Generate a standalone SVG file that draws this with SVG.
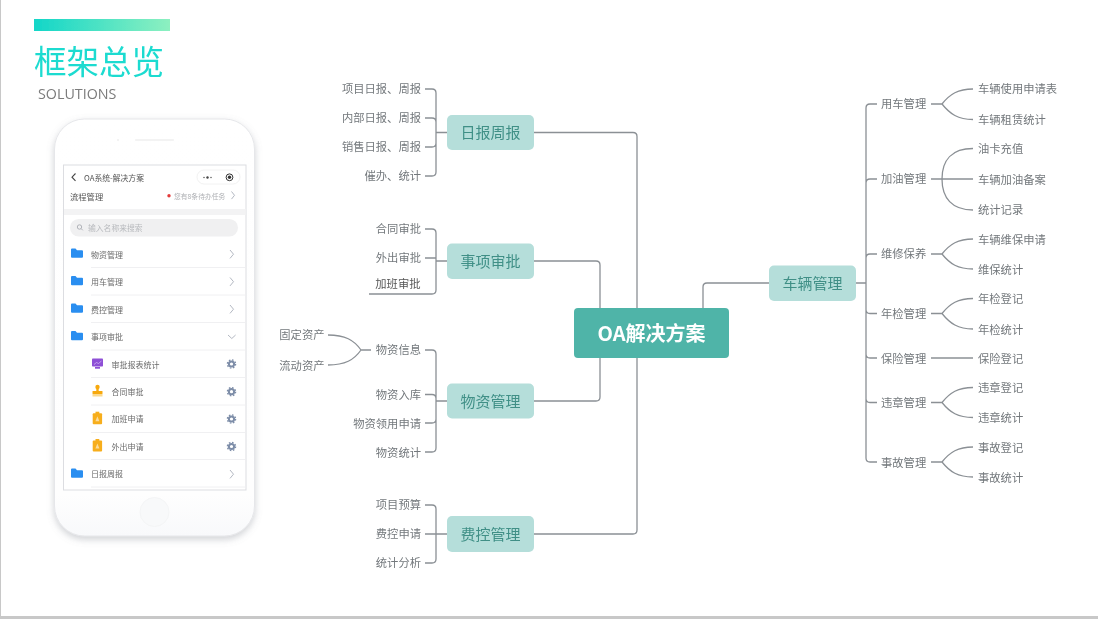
<svg xmlns="http://www.w3.org/2000/svg" width="1098" height="619" viewBox="0 0 1098 619">
<style>
text{font-family:"Noto Sans CJK SC","Noto Sans",sans-serif;dominant-baseline:central;transform:translateY(-1px)}
.leaf{font-size:11.3px;fill:#73787c}
.r{text-anchor:end}
.topic{font-size:15px;fill:#3f8f86;text-anchor:middle}
.box{fill:#b5deda}
.line{fill:none;stroke:#8b9095;stroke-width:1.3}
.ph{font-size:8px;fill:#6a6a6a}
.sep{stroke:#f0f0f2;stroke-width:1;fill:none}
.chev{fill:none;stroke:#b3b8c2;stroke-width:1}
</style>
<defs>
<linearGradient id="bar" x1="0" x2="1" y1="0" y2="0"><stop offset="0" stop-color="#12d6c8"/><stop offset="1" stop-color="#8df0c0"/></linearGradient>
<linearGradient id="body" x1="0" x2="0" y1="0" y2="1"><stop offset="0" stop-color="#ffffff"/><stop offset="0.9" stop-color="#fefefe"/><stop offset="1" stop-color="#f8f9fb"/></linearGradient>
<filter id="shadow" x="-15%" y="-10%" width="130%" height="120%"><feDropShadow dx="0" dy="3" stdDeviation="3.5" flood-color="#8a8f99" flood-opacity="0.4"/></filter>
<filter id="soft" filterUnits="userSpaceOnUse" x="0" y="0" width="1098" height="619"><feGaussianBlur stdDeviation="0.35"/></filter>
<path id="folder" d="M71 249.500a1 1 0 0 1 1-1h3.500l1.500 1.700h5a1 1 0 0 1 1 1v5.600a1 1 0 0 1-1 1H72a1 1 0 0 1-1-1z" fill="#2b8ef0"/>
<g id="gear"><circle cx="231.500" cy="0" r="2.600" fill="none" stroke="#7d8da8" stroke-width="2"/><circle cx="231.500" cy="0" r="4.100" fill="none" stroke="#7d8da8" stroke-width="1.300" stroke-dasharray="1.600 1.620"/></g>
<g id="clip"><rect x="92.700" y="-5.500" width="9.400" height="11" rx="1" fill="#f7ae1c"/><rect x="95.500" y="-7" width="3.800" height="2.400" fill="#f7ae1c"/><path d="M97.400-2.500l2 5h-4z" fill="#fbdc9c"/></g>
</defs>
<rect width="1098" height="619" fill="#ffffff"/>
<rect x="0" y="0" width="1" height="619" fill="#c8c8c8"/>
<rect x="0" y="616" width="1098" height="3" fill="#c8c8c8"/>
<g id="header" filter="url(#soft)">
<rect x="34" y="19" width="136" height="12" fill="url(#bar)"/>
<text x="34" y="60.500" font-size="32.500" fill="#1cdbd0">框架总览</text>
<text x="38" y="94.500" font-size="14.300" fill="#7b7b7b" style="font-family:'Open Sans','Noto Sans',sans-serif">SOLUTIONS</text>
</g>
<g id="phone" filter="url(#soft)">
<rect x="54.500" y="119" width="200" height="417" rx="30" fill="url(#body)" stroke="#e6e7ea" stroke-width="1" filter="url(#shadow)"/>
<circle cx="118" cy="140" r="1" fill="#efefef"/>
<rect x="135" y="139.300" width="39" height="1.400" rx="0.700" fill="#efefef"/>
<circle cx="154.500" cy="512" r="14.500" fill="#f8f9fa" stroke="#f4f5f6"/>
<rect x="63.500" y="165" width="182.500" height="325" fill="#ffffff" stroke="#dcdde1" stroke-width="1"/>
<path d="M75.500 173.500l-3.500 3.700 3.500 3.700" fill="none" stroke="#444" stroke-width="1.100"/>
<text x="84" y="178" class="ph" style="font-size:7.800px;fill:#555">OA系统-解决方案</text>
<rect x="197" y="170" width="43" height="14" rx="7" fill="#ffffff" stroke="#f2f2f2"/>
<g fill="#444"><circle cx="204" cy="177.500" r="0.700"/><circle cx="207.500" cy="177.500" r="1.200"/><circle cx="211" cy="177.500" r="0.700"/></g>
<circle cx="229.500" cy="177.300" r="3.400" fill="none" stroke="#333" stroke-width="1"/><circle cx="229.500" cy="177.300" r="1.700" fill="#333"/>
<text x="70" y="197" class="ph" style="font-size:8.300px;fill:#555">流程管理</text>
<circle cx="169" cy="195.700" r="1.700" fill="#e33a3a"/>
<text x="174" y="197" style="font-size:6.800px;fill:#aeb0b4">您有8条待办任务</text>
<path class="chev" d="M231.500 191.500l3 3.800-3 3.800"/>
<rect x="64" y="209" width="181.500" height="6" fill="#f3f3f4"/>
<rect x="70" y="219" width="168" height="17.500" rx="8.700" fill="#f0f0f1"/>
<circle cx="79.500" cy="227" r="2.200" fill="none" stroke="#a9acb2" stroke-width="0.900"/><path d="M81.200 228.700l1.600 1.600" stroke="#a9acb2" stroke-width="0.900"/>
<text x="88" y="228" style="font-size:7.800px;fill:#b8babe">输入名称来搜索</text>
<g id="row-wuzi"><use href="#folder"/><text x="91" y="255" class="ph">物资管理</text><path class="chev" d="M230 250l3.500 4.200-3.500 4.200"/><path class="sep" d="M91 267.500H245"/></g>
<g id="row-yongche"><use href="#folder" y="27.500"/><text x="91" y="282.500" class="ph">用车管理</text><path class="chev" d="M230 277.500l3.500 4.200-3.500 4.200"/><path class="sep" d="M91 295H245"/></g>
<g id="row-feikong"><use href="#folder" y="55"/><text x="91" y="310" class="ph">费控管理</text><path class="chev" d="M230 305l3.500 4.200-3.500 4.200"/><path class="sep" d="M91 322.500H245"/></g>
<g id="row-shixiang"><use href="#folder" y="82.500"/><text x="91" y="337.500" class="ph">事项审批</text><path class="chev" d="M228 335l3.800 3.500 3.800-3.500"/><path class="sep" d="M91 350H245"/></g>
<g id="row-baobiao"><rect x="92" y="358.500" width="11" height="8" rx="0.800" fill="#8e4fd6"/><rect x="95" y="367" width="5" height="1.700" fill="#8e4fd6"/><path d="M94 364.500l2.500-2 2 1 3-2.500" fill="none" stroke="#d9c0f5" stroke-width="0.700"/><text x="111.500" y="365" class="ph">审批报表统计</text><use href="#gear" y="364"/><path class="sep" d="M91 377.500H245"/></g>
<g id="row-hetong"><circle cx="97.500" cy="387" r="2.200" fill="#f7a90f"/><rect x="96.300" y="388" width="2.400" height="4" fill="#f7a90f"/><rect x="92.500" y="391" width="10" height="3" rx="0.500" fill="#f7a90f"/><rect x="92.500" y="394" width="10" height="2.500" fill="#fbd98e"/><text x="111.500" y="392.500" class="ph">合同审批</text><use href="#gear" y="391.700"/><path class="sep" d="M91 405H245"/></g>
<g id="row-jiaban"><use href="#clip" y="418.700"/><text x="111.500" y="419.500" class="ph">加班申请</text><use href="#gear" y="419"/><path class="sep" d="M91 432.500H245"/></g>
<g id="row-waichu"><use href="#clip" y="446"/><text x="111.500" y="447" class="ph">外出申请</text><use href="#gear" y="446.500"/><path class="sep" d="M91 459.500H245"/></g>
<g id="row-ribao"><use href="#folder" y="220"/><text x="91" y="474.500" class="ph">日报周报</text><path class="chev" d="M230 470l3.500 4.200-3.500 4.200"/><path class="sep" d="M91 487H245"/></g>
</g>
<g id="connectors" class="line" filter="url(#soft)">
<path d="M533 132.500H633Q637 132.500 637 136.500V308"/>
<path d="M533 261H596Q600 261 600 265V308"/>
<path d="M533 401H596Q600 401 600 397V358"/>
<path d="M533 534H633Q637 534 637 530V358"/>
<path d="M769 283H707Q703 283 703 287V308"/>
<path d="M425 89H432Q436 89 436 93V172Q436 176 432 176H425M425 118H432Q436 118 436 122M425 147H432Q436 147 436 143M436 132.500H447"/>
<path d="M425 229H432Q436 229 436 233V290Q436 294 432 294H369M425 258H436M436 261H447"/>
<path d="M425 350H432Q436 350 436 354V448Q436 452 432 452H425M425 394.500H432Q436 394.500 436 398.500M425 423H432Q436 423 436 419M436 401H447"/>
<path d="M425 505H432Q436 505 436 509V559Q436 563 432 563H425M425 534H447"/>
<path d="M328 335C345 335 354 340 361 350C354 360 345 365 328 365M361 350H371"/>
<path d="M856 283H866M877 104H870Q866 104 866 108V458Q866 462 870 462H877M877 179H870Q866 179 866 183M877 254H870Q866 254 866 258M877 313.500H870Q866 313.500 866 309.500M877 358H870Q866 358 866 354M877 402.500H870Q866 402.500 866 398.500"/>
<path d="M931 104H942M942 104C950 94 958 89 973 89M942 104C950 114 958 119.500 973 119.500"/>
<path d="M931 179H973M973 148.500C952 148.500 942 160 942 179C942 198 952 210 973 210"/>
<path d="M931 254H942M942 254C950 244 958 239 973 239M942 254C950 264 958 269 973 269"/>
<path d="M931 313.500H942M942 313.500C950 303.500 958 298.500 973 298.500M942 313.500C950 323.500 958 329 973 329"/>
<path d="M931 358H973"/>
<path d="M931 402.500H942M942 402.500C950 392.500 958 387.500 973 387.500M942 402.500C950 412.500 958 417.500 973 417.500"/>
<path d="M931 462H942M942 462C950 452 958 447 973 447M942 462C950 472 958 477 973 477"/>
</g>
<g id="nodes" filter="url(#soft)">
<g id="node-root"><rect x="574" y="308" width="155" height="50" rx="4" fill="#4fb4a8"/><text x="651.500" y="333" text-anchor="middle" font-size="20" font-weight="700" fill="#ffffff">OA解决方案</text></g>
<g id="node-ribao"><rect class="box" x="447" y="115" width="87" height="35" rx="5"/><text class="topic" x="490.500" y="132.500">日报周报</text></g>
<g id="node-shixiang"><rect class="box" x="447" y="243.500" width="87" height="35.500" rx="5"/><text class="topic" x="490.500" y="261">事项审批</text></g>
<g id="node-wuzi"><rect class="box" x="447" y="383.500" width="87" height="35" rx="5"/><text class="topic" x="490.500" y="401">物资管理</text></g>
<g id="node-feikong"><rect class="box" x="447" y="516" width="87" height="36" rx="5"/><text class="topic" x="490.500" y="534">费控管理</text></g>
<g id="node-cheliang"><rect class="box" x="769" y="265.500" width="87" height="35.500" rx="5"/><text class="topic" x="812.500" y="283">车辆管理</text></g>
</g>
<g id="leaves-left" filter="url(#soft)">
<g id="l1"><text class="leaf r" x="421" y="89">项目日报、周报</text></g>
<g id="l2"><text class="leaf r" x="421" y="118">内部日报、周报</text></g>
<g id="l3"><text class="leaf r" x="421" y="147">销售日报、周报</text></g>
<g id="l4"><text class="leaf r" x="421" y="176">催办、统计</text></g>
<g id="l5"><text class="leaf r" x="421" y="229">合同审批</text></g>
<g id="l6"><text class="leaf r" x="421" y="258">外出审批</text></g>
<g id="l7"><text class="leaf r" x="420.500" y="283.500" style="fill:#555">加班审批</text></g>
<g id="l8"><text class="leaf r" x="421" y="350">物资信息</text></g>
<g id="l9"><text class="leaf r" x="421" y="394.500">物资入库</text></g>
<g id="l10"><text class="leaf r" x="421" y="423.500">物资领用申请</text></g>
<g id="l11"><text class="leaf r" x="421" y="452.500">物资统计</text></g>
<g id="l12"><text class="leaf r" x="324.500" y="334.500">固定资产</text></g>
<g id="l13"><text class="leaf r" x="324.500" y="365.500">流动资产</text></g>
<g id="l14"><text class="leaf r" x="421" y="505">项目预算</text></g>
<g id="l15"><text class="leaf r" x="421" y="534">费控申请</text></g>
<g id="l16"><text class="leaf r" x="421" y="563">统计分析</text></g>
</g>
<g id="leaves-right" filter="url(#soft)">
<g id="r1"><text class="leaf" x="881" y="104">用车管理</text></g>
<g id="r2"><text class="leaf" x="881" y="179">加油管理</text></g>
<g id="r3"><text class="leaf" x="881" y="254">维修保养</text></g>
<g id="r4"><text class="leaf" x="881" y="314">年检管理</text></g>
<g id="r5"><text class="leaf" x="881" y="358.500">保险管理</text></g>
<g id="r6"><text class="leaf" x="881" y="402.500">违章管理</text></g>
<g id="r7"><text class="leaf" x="881" y="462.500">事故管理</text></g>
<g id="r8"><text class="leaf" x="978" y="89">车辆使用申请表</text></g>
<g id="r9"><text class="leaf" x="978" y="120">车辆租赁统计</text></g>
<g id="r10"><text class="leaf" x="978" y="149">油卡充值</text></g>
<g id="r11"><text class="leaf" x="978" y="179.500">车辆加油备案</text></g>
<g id="r12"><text class="leaf" x="978" y="210">统计记录</text></g>
<g id="r13"><text class="leaf" x="978" y="239.500">车辆维保申请</text></g>
<g id="r14"><text class="leaf" x="978" y="269.500">维保统计</text></g>
<g id="r15"><text class="leaf" x="978" y="299">年检登记</text></g>
<g id="r16"><text class="leaf" x="978" y="329.500">年检统计</text></g>
<g id="r17"><text class="leaf" x="978" y="358.500">保险登记</text></g>
<g id="r18"><text class="leaf" x="978" y="388">违章登记</text></g>
<g id="r19"><text class="leaf" x="978" y="418">违章统计</text></g>
<g id="r20"><text class="leaf" x="978" y="447.500">事故登记</text></g>
<g id="r21"><text class="leaf" x="978" y="477.500">事故统计</text></g>
</g>
</svg>
